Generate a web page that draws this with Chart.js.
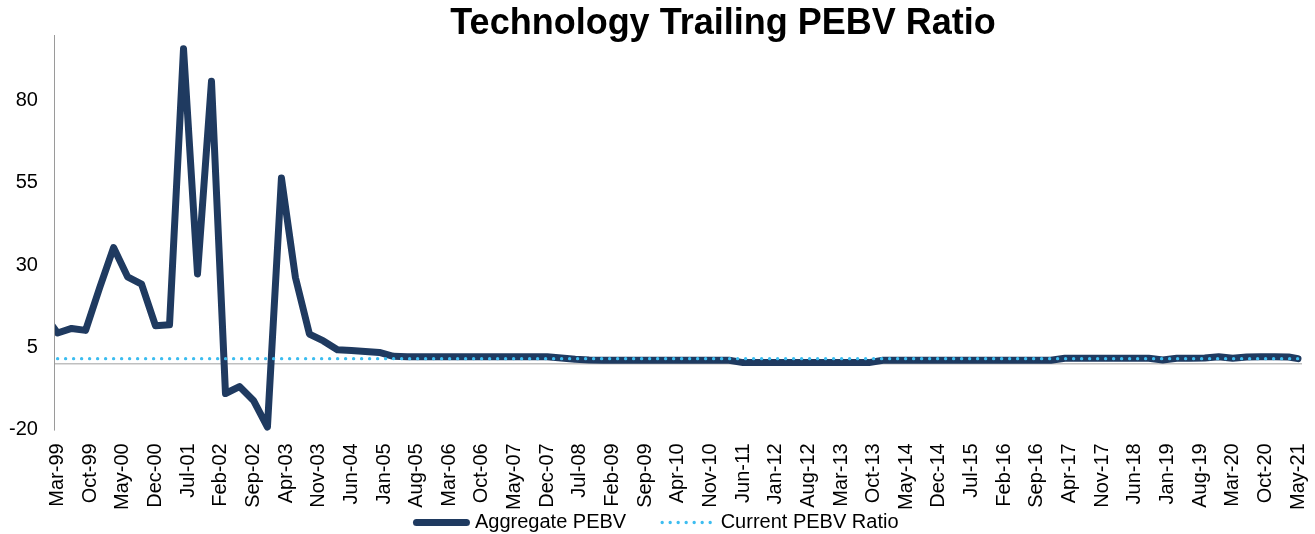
<!DOCTYPE html>
<html>
<head>
<meta charset="utf-8">
<title>Technology Trailing PEBV Ratio</title>
<script src="https://cdn.jsdelivr.net/npm/chart.js@4.4.1/dist/chart.umd.min.js"></script>
<style>
  html, body { margin: 0; padding: 0; background: #fff; }
  canvas { display: block; }
</style>
</head>
<body>
<canvas id="pebvChart" width="1315" height="534"></canvas>
<script>
const chartTitle = 'Technology Trailing PEBV Ratio';

// months are counted from Mar-99 (= 0); the quarterly readings start at Dec-98
const firstQuarterMonth = -3;
const aggregatePEBV = [
  15.0, 9.3, 10.7, 10.1, 23.0, 35.3, 26.4, 24.2, 11.5, 11.8,
  95.8, 27.3, 85.9, -9.1, -7.0, -11.2, -19.3, 56.5, 26.2, 9.0,
  6.9, 4.2, 4.0, 3.7, 3.4, 2.2, 2.1, 2.1, 2.1, 2.1,
  2.1, 2.1, 2.1, 2.1, 2.1, 2.1, 2.1, 1.7, 1.3, 1.1,
  1.0, 1.0, 1.0, 1.0, 1.0, 1.0, 1.0, 1.0, 1.0, 1.0,
  0.3, 0.3, 0.3, 0.3, 0.3, 0.3, 0.3, 0.3, 0.3, 0.3,
  1.0, 1.0, 1.0, 1.0, 1.0, 1.0, 1.0, 1.0, 1.0, 1.0,
  1.0, 1.0, 1.0, 1.6, 1.6, 1.6, 1.6, 1.6, 1.6, 1.6,
  1.1, 1.6, 1.6, 1.7, 2.1, 1.6, 2.0, 2.1, 2.1, 2.0
];
const latestMonth = 266;   // May-21
const latestPEBV = 1.5;
const currentPEBV = 1.5;

const xTickLabels = [
  'Mar-99', 'Oct-99', 'May-00', 'Dec-00', 'Jul-01', 'Feb-02', 'Sep-02', 'Apr-03',
  'Nov-03', 'Jun-04', 'Jan-05', 'Aug-05', 'Mar-06', 'Oct-06', 'May-07', 'Dec-07',
  'Jul-08', 'Feb-09', 'Sep-09', 'Apr-10', 'Nov-10', 'Jun-11', 'Jan-12', 'Aug-12',
  'Mar-13', 'Oct-13', 'May-14', 'Dec-14', 'Jul-15', 'Feb-16', 'Sep-16', 'Apr-17',
  'Nov-17', 'Jun-18', 'Jan-19', 'Aug-19', 'Mar-20', 'Oct-20', 'May-21'
];
const xTickStep = 7;  // months between labels
const yTickValues = [-20, 5, 30, 55, 80];

const FONT = '"Liberation Sans", Arial, sans-serif';
const NAVY = '#1f3a60';
const SKY = '#3dbdf0';

const aggregatePoints = aggregatePEBV
  .map((v, i) => ({ x: firstQuarterMonth + 3 * i, y: v }))
  .concat([{ x: latestMonth, y: latestPEBV }]);
const currentPoints = [{ x: 0, y: currentPEBV }, { x: latestMonth, y: currentPEBV }];

// title and legend are placed like the Excel original
const titleAndLegend = {
  id: 'titleAndLegend',
  afterDraw(chart) {
    const ctx = chart.ctx;
    ctx.save();
    ctx.fillStyle = '#000';
    ctx.font = 'bold 36px ' + FONT;
    ctx.textAlign = 'center';
    ctx.textBaseline = 'alphabetic';
    ctx.fillText(chartTitle, 723, 34);

    ctx.font = '20px ' + FONT;
    ctx.textAlign = 'left';
    ctx.textBaseline = 'middle';
    const sampleW = 50, textGap = 8.5, itemGap = 36, y = 522.5;
    const items = chart.data.datasets.map(ds => ({ ds, w: ctx.measureText(ds.label).width }));
    let total = 0;
    items.forEach((it, i) => { total += sampleW + textGap + it.w + (i ? itemGap : 0); });
    let x = (chart.width - total) / 2;
    items.forEach(it => {
      const ds = it.ds;
      ctx.beginPath();
      ctx.strokeStyle = ds.borderColor;
      ctx.lineWidth = ds.borderWidth;
      ctx.lineCap = ds.borderCapStyle;
      ctx.setLineDash(ds.borderDash || []);
      ctx.moveTo(x, y);
      ctx.lineTo(x + sampleW, y);
      ctx.stroke();
      ctx.setLineDash([]);
      ctx.fillStyle = '#000';
      ctx.fillText(ds.label, x + sampleW + textGap, y);
      x += sampleW + textGap + it.w + itemGap;
    });
    ctx.restore();
  }
};

const chart = new Chart(document.getElementById('pebvChart'), {
  type: 'line',
  data: {
    datasets: [{
      label: 'Aggregate PEBV',
      data: aggregatePoints,
      borderColor: NAVY,
      borderWidth: 7,
      borderCapStyle: 'round',
      borderJoinStyle: 'round',
      pointRadius: 0,
      tension: 0,
      order: 1,
      clip: { left: 0, top: 10, right: 10, bottom: 10 }
    }, {
      label: 'Current PEBV Ratio',
      data: currentPoints,
      borderColor: SKY,
      borderWidth: 3.4,
      borderCapStyle: 'round',
      borderDash: [0, 8],
      pointRadius: 0,
      order: 0
    }]
  },
  options: {
    responsive: false,
    animation: false,
    layout: { padding: { left: -8, right: 13, top: 35, bottom: 10 } },
    plugins: {
      legend: { display: false },
      title: { display: false },
      tooltip: { enabled: false }
    },
    scales: {
      x: {
        type: 'linear',
        min: -0.58,
        max: 266.86,
        afterBuildTicks: axis => {
          axis.ticks = xTickLabels.map((label, i) => ({ value: i * xTickStep }));
        },
        // the rotated labels fit inside the plot width, no side padding needed
        afterFit: axis => {
          axis.paddingLeft = 0;
          axis.paddingRight = 0;
        },
        ticks: {
          autoSkip: false,
          minRotation: 90,
          maxRotation: 90,
          padding: 14,
          color: '#000',
          font: { family: FONT, size: 20 },
          callback: value => xTickLabels[Math.round(value / xTickStep)]
        },
        grid: { display: false, drawTicks: false },
        border: { display: false }
      },
      y: {
        min: -20,
        max: 100,
        afterBuildTicks: axis => {
          axis.ticks = [...yTickValues, 0].sort((a, b) => a - b).map(v => ({ value: v }));
        },
        ticks: {
          padding: 17,
          color: '#000',
          font: { family: FONT, size: 20 },
          callback: value => (yTickValues.includes(value) ? String(value) : '')
        },
        grid: {
          drawTicks: false,
          lineWidth: 1.6,
          color: ctx => (ctx.tick && ctx.tick.value === 0 ? '#bfbfbf' : 'rgba(0,0,0,0)')
        },
        border: { display: true, color: '#9a9a9a', width: 1 }
      }
    }
  },
  plugins: [titleAndLegend]
});
</script>
</body>
</html>
